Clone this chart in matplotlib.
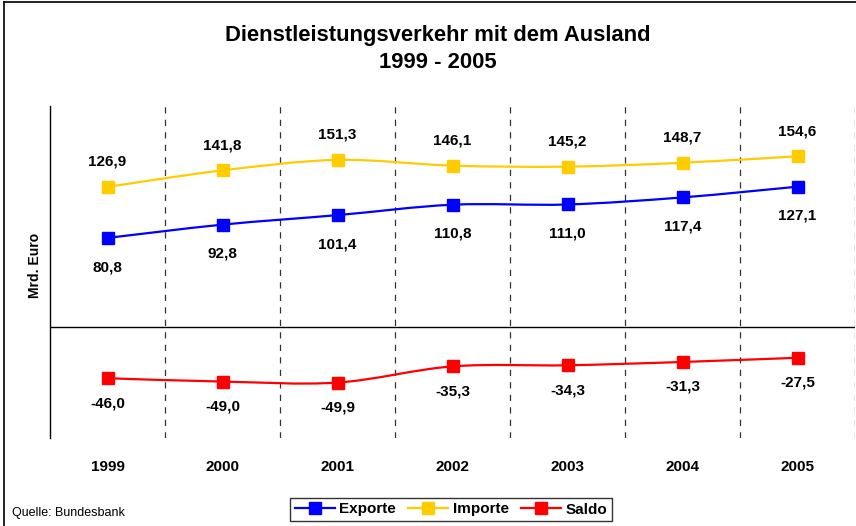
import numpy as np
import matplotlib
matplotlib.use("Agg")
import matplotlib.pyplot as plt
from matplotlib.path import Path
from matplotlib.patches import PathPatch
from matplotlib.lines import Line2D

plt.rcParams['font.family'] = ['Liberation Sans', 'DejaVu Sans']

# Daten (Mrd. Euro)
jahre = ["1999", "2000", "2001", "2002", "2003", "2004", "2005"]
exporte = [80.8, 92.8, 101.4, 110.8, 111.0, 117.4, 127.1]
importe = [126.9, 141.8, 151.3, 146.1, 145.2, 148.7, 154.6]
saldo = [-46.0, -49.0, -49.9, -35.3, -34.3, -31.3, -27.5]

blau = "#0000ff"
gelb = "#ffcc00"
rot = "#ff0000"


def glatt(ax, xs, ys, farbe):
    # Excel-artige geglaettete Linie (Catmull-Rom als Bezier)
    p = np.column_stack([xs, ys]).astype(float)
    verts = [p[0]]
    codes = [Path.MOVETO]
    n = len(p)
    for i in range(n - 1):
        p0 = p[i - 1] if i > 0 else p[i]
        p3 = p[i + 2] if i + 2 < n else p[i + 1]
        c1 = p[i] + (p[i + 1] - p0) / 6
        c2 = p[i + 1] - (p3 - p[i]) / 6
        verts += [c1, c2, p[i + 1]]
        codes += [Path.CURVE4] * 3
    ax.add_patch(PathPatch(Path(verts, codes), fill=False, edgecolor=farbe,
                           lw=1.6, zorder=3))


fig = plt.figure(figsize=(8.56, 5.26), dpi=100)
ax = fig.add_axes([50 / 856, 1 - 438 / 526, 805 / 856, 332 / 526])

x = np.arange(len(jahre))
ax.set_xlim(-0.5, len(jahre) - 0.5)
ax.set_ylim(-100, 200)

for xs in x + 0.5:
    ax.axvline(xs, color="#333333", lw=0.9, ls=(0, (5, 5)), zorder=1)
ax.axhline(0, color="black", lw=1, zorder=2)

for werte, farbe in [(exporte, blau), (importe, gelb), (saldo, rot)]:
    glatt(ax, x, werte, farbe)
    ax.plot(x, werte, ls="none", marker="s", ms=9, color=farbe, zorder=4)

for i in range(len(jahre)):
    ax.annotate(f"{importe[i]:.1f}".replace(".", ","), (x[i], importe[i]),
                xytext=(0, 18), textcoords="offset points", ha="center",
                va="center", fontsize=11, fontweight="bold")
    ax.annotate(f"{exporte[i]:.1f}".replace(".", ","), (x[i], exporte[i]),
                xytext=(0, -21), textcoords="offset points", ha="center",
                va="center", fontsize=11, fontweight="bold")
    ax.annotate(f"{saldo[i]:.1f}".replace(".", ","), (x[i], saldo[i]),
                xytext=(0, -18), textcoords="offset points", ha="center",
                va="center", fontsize=11, fontweight="bold")

for s in ["top", "right", "bottom"]:
    ax.spines[s].set_visible(False)
ax.spines["left"].set_linewidth(1)
ax.set_yticks([])
ax.set_xticks(x)
ax.set_xticklabels(jahre, fontsize=11, fontweight="bold")
ax.tick_params(axis="x", length=0, pad=16)
ax.set_ylabel("Mrd. Euro", fontsize=10, fontweight="bold")
ax.yaxis.set_label_coords(-8 / 805, 0.521)

fig.text(438 / 856, 1 - 36 / 526, "Dienstleistungsverkehr mit dem Ausland",
         ha="center", va="center", fontsize=15.8, fontweight="bold")
fig.text(438 / 856, 1 - 62 / 526, "1999 - 2005",
         ha="center", va="center", fontsize=15.8, fontweight="bold")
fig.text(12 / 856, 1 - 513 / 526, "Quelle: Bundesbank", ha="left",
         va="center", fontsize=9)

griffe = [Line2D([], [], color=c, lw=1.6, marker="s", ms=9) for c in (blau, gelb, rot)]
leg = fig.legend(griffe, ["Exporte", "Importe", "Saldo"], loc="center",
                 bbox_to_anchor=(451 / 856, 1 - 509.5 / 526), ncol=3,
                 frameon=True, fancybox=False, edgecolor="black",
                 prop={"size": 11, "weight": "bold"}, handlelength=2.6,
                 handletextpad=0.3, columnspacing=0.8, borderpad=0.3,
                 borderaxespad=0)
leg.get_frame().set_linewidth(1)

# Rahmen um das Diagramm
fig.add_artist(Line2D([4 / 856, 4 / 856], [0, 1 - 2 / 526], color="black", lw=1.2))
fig.add_artist(Line2D([4 / 856, 1], [1 - 2 / 526, 1 - 2 / 526], color="black", lw=1.2))

fig.savefig("out.png", dpi=100)
